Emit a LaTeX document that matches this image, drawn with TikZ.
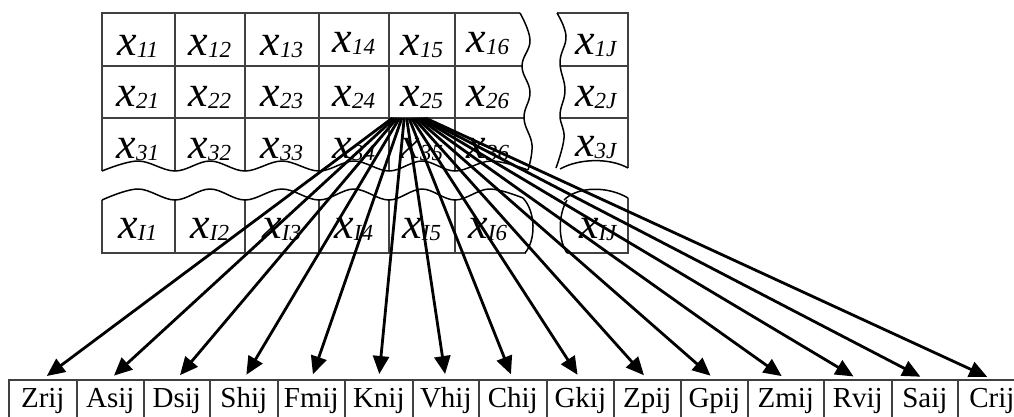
\documentclass[tikz,border=0pt]{standalone}
\usepackage{fontspec}
\setmainfont{Liberation Serif}
\usetikzlibrary{arrows.meta,calc}
\newcommand\xv[1]{{\fontsize{44}{44}\selectfont\itshape x}\kern-0.5pt\raisebox{-2.5pt}{\fontsize{23}{23}\selectfont\itshape #1}}
\begin{document}
\begin{tikzpicture}[x=1pt,y=-1pt,
  gridline/.style={draw=black!75, line width=1.6pt},
  wave/.style={draw=black, line width=1.5pt},
  cell/.style={anchor=base, inner sep=0pt},
  bbox/.style={draw=black!75, line width=1.6pt, anchor=north west,
    font=\fontsize{29}{29}\selectfont, text height=20pt, text depth=30pt,
    inner ysep=8pt, inner xsep=0pt},
  arr/.style={line width=2.8pt, -{Triangle[length=18pt,width=16pt]}, shorten >=5pt}]
\path[use as bounding box] (0,0) rectangle (1014,416);
\clip (0,0) rectangle (1014,416);
% ---------- upper block ----------
\draw[gridline] (102,171) -- (102,13) -- (520,13);
\foreach \x in {175,245,319,389,455} \draw[gridline] (\x,13) -- (\x,171);
\draw[gridline] (102,66) -- (522,66);
\draw[gridline] (102,118) -- (524,118);
\draw[wave] plot[smooth, tension=0.7] coordinates {(520,13) (530,40) (522,66) (530,92) (524,118) (532,145) (528,170)};
\draw[wave] plot[smooth, tension=0.6] coordinates {(102,171) (138,161) (175,171) (210,161) (245,171) (282,161) (319,171) (354,161) (389,171) (422,161) (455,171) (491,161) (528,170)};
% right column
\draw[gridline] (557,13) -- (628,13) -- (628,168);
\draw[gridline] (561,66) -- (628,66);
\draw[gridline] (560,118) -- (628,118);
\draw[wave] plot[smooth, tension=0.7] coordinates {(557,13) (566,36) (560,62) (565,90) (560,115) (564,138) (556,168)};
\draw[wave] (560,169) .. controls (580,158) and (610,158) .. (628,168);
% ---------- lower block ----------
\draw[gridline] (102,200) -- (102,253) -- (526,253);
\foreach \x in {175,245,319,389,455} \draw[gridline] (\x,200) -- (\x,253);
\draw[wave] plot[smooth, tension=0.6] coordinates {(102,200) (138,189) (175,200) (210,189) (245,200) (282,189) (319,200) (354,189) (389,200) (422,189) (455,200) (489,189) (523,198)};
\draw[wave] (523,198) .. controls (536,212) and (536,240) .. (525,253);
\draw[gridline] (628,198) -- (628,253) -- (567,253);
\draw[wave] (564,200) .. controls (578,186) and (608,186) .. (628,198);
\draw[wave] (567,200) .. controls (558,215) and (558,240) .. (567,253);
% ---------- cell texts ----------
\node[cell] (x11) at (138,55) {\xv{11}};
\node[cell] (x12) at (210,55) {\xv{12}};
\node[cell] (x13) at (282,55) {\xv{13}};
\node[cell] (x14) at (354,52) {\xv{14}};
\node[cell] (x15) at (422,55) {\xv{15}};
\node[cell] (x16) at (488,52) {\xv{16}};
\node[cell] (x1J) at (596,54) {\xv{1J}};
\node[cell] (x21) at (138,106) {\xv{21}};
\node[cell] (x22) at (210,106) {\xv{22}};
\node[cell] (x23) at (282,106) {\xv{23}};
\node[cell] (x24) at (354,106) {\xv{24}};
\node[cell] (x25) at (422,106) {\xv{25}};
\node[cell] (x26) at (488,106) {\xv{26}};
\node[cell] (x2J) at (596,106) {\xv{2J}};
\node[cell] (x31) at (138,158) {\xv{31}};
\node[cell] (x32) at (210,158) {\xv{32}};
\node[cell] (x33) at (282,158) {\xv{33}};
\node[cell] (x34) at (354,158) {\xv{34}};
\node[cell] (x35) at (422,158) {\xv{35}};
\node[cell] (x36) at (488,158) {\xv{36}};
\node[cell] (x3J) at (596,156) {\xv{3J}};
\node[cell] (xI1) at (138,238) {\xv{I1}};
\node[cell] (xI2) at (210,238) {\xv{I2}};
\node[cell] (xI3) at (282,238) {\xv{I3}};
\node[cell] (xI4) at (354,238) {\xv{I4}};
\node[cell] (xI5) at (422,238) {\xv{I5}};
\node[cell] (xI6) at (488,238) {\xv{I6}};
\node[cell] (xIJ) at (598,238) {\xv{IJ}};
\node[minimum width=66pt, minimum height=52pt, inner sep=0pt] (c25) at (422,92) {};
% ---------- bottom boxes ----------
\foreach \name/\x/\w [count=\i] in {Zrij/8/68, Asij/76/67, Dsij/143/66, Shij/209/68, Fmij/277/67, Knij/344/68, Vhij/412/66, Chij/478/68, Gkij/546/67, Zpij/613/67, Gpij/680/67, Zmij/747/76, Rvij/823/68, Saij/891/66, Crij/957/68}
  \node[bbox, minimum width=\w pt] (b\i) at (\x,379) {\name};
% ---------- arrows ----------
\foreach \i in {1,...,15}
  \draw[arr] ($(c25.south west)+(1+\i*2.4,0)$) -- (b\i.north);
\end{tikzpicture}
\end{document}
